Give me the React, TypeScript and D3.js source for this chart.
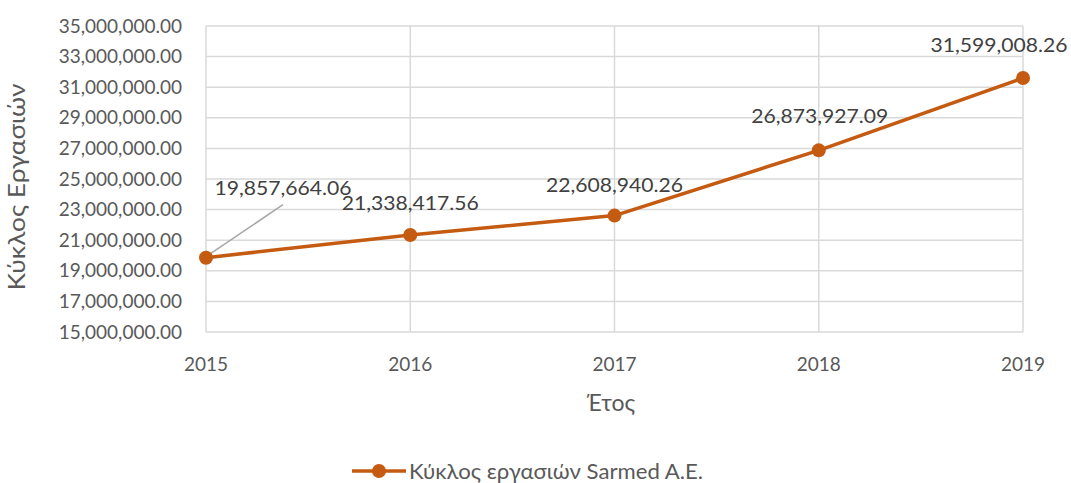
import React from "react";
import * as d3 from "d3";

const years = ["2015", "2016", "2017", "2018", "2019"];
const revenue = [19857664.06, 21338417.56, 22608940.26, 26873927.09, 31599008.26];
const yTicks = [15e6, 17e6, 19e6, 21e6, 23e6, 25e6, 27e6, 29e6, 31e6, 33e6, 35e6];
const labelOffsets: [number, number][] = [[77, -70], [0, -32], [0, -31], [1, -34], [-24, -33]];

const W = 1071, H = 483;
const M = { left: 206, right: 1023, top: 26, bottom: 332 };
const FONT = "Lato, 'Open Sans', sans-serif";
const ORANGE = "#C55A11";

export default function App() {
  const x = d3.scalePoint<string>().domain(years).range([M.left, M.right]);
  const y = d3.scaleLinear().domain([15e6, 35e6]).range([M.bottom, M.top]);
  const fmt = d3.format(",.2f");
  const line = d3.line<number>().x((_, i) => x(years[i])!).y((d) => y(d));
  const p0 = { x: x(years[0])!, y: y(revenue[0]) };
  return (
    <svg width={W} height={H} style={{ position: "absolute", left: 0, top: 0, background: "#fff" }}>
      <rect width={W} height={H} fill="#fff" />
      {yTicks.map((t) => (
        <g key={t}>
          <line x1={M.left} x2={M.right} y1={y(t)} y2={y(t)} stroke="#D9D9D9" strokeWidth={1.5} />
          <text x={182} y={y(t)} dy="0.35em" textAnchor="end" fontFamily={FONT} fontSize={19} fill="#595959">
            {fmt(t)}
          </text>
        </g>
      ))}
      {years.map((yr) => (
        <g key={yr}>
          <line x1={x(yr)} x2={x(yr)} y1={M.top} y2={M.bottom} stroke="#D9D9D9" strokeWidth={1.5} />
          <text x={x(yr)} y={371} textAnchor="middle" fontFamily={FONT} fontSize={19} fill="#595959">
            {yr}
          </text>
        </g>
      ))}
      <text x={611} y={411} textAnchor="middle" fontFamily={FONT} fontSize={23} fill="#595959">Έτος</text>
      <text transform={`translate(25,187) rotate(-90)`} textAnchor="middle" fontFamily={FONT} fontSize={23} fill="#595959" textLength={207} lengthAdjust="spacingAndGlyphs">
        Κύκλος Εργασιών
      </text>
      <line x1={p0.x} y1={p0.y - 1} x2={p0.x + 77} y2={p0.y - 53} stroke="#A6A6A6" strokeWidth={1.5} />
      <path d={line(revenue)!} fill="none" stroke={ORANGE} strokeWidth={3.5} strokeLinejoin="round" />
      {revenue.map((v, i) => (
        <circle key={i} cx={x(years[i])} cy={y(v)} r={7} fill={ORANGE} />
      ))}
      {revenue.map((v, i) => (
        <text key={"l" + i} x={x(years[i])! + labelOffsets[i][0]} y={y(v) + labelOffsets[i][1]} dy="0.35em" textAnchor="middle" fontFamily={FONT} fontSize={20} fill="#404040" textLength={137} lengthAdjust="spacingAndGlyphs">
          {fmt(v)}
        </text>
      ))}
      <g>
        <line x1={352} x2={406} y1={471} y2={471} stroke={ORANGE} strokeWidth={3.5} />
        <circle cx={379} cy={471} r={7} fill={ORANGE} />
        <text x={409} y={479} fontFamily={FONT} fontSize={21} fill="#595959" textLength={294} lengthAdjust="spacingAndGlyphs">Κύκλος εργασιών Sarmed A.E.</text>
      </g>
    </svg>
  );
}
